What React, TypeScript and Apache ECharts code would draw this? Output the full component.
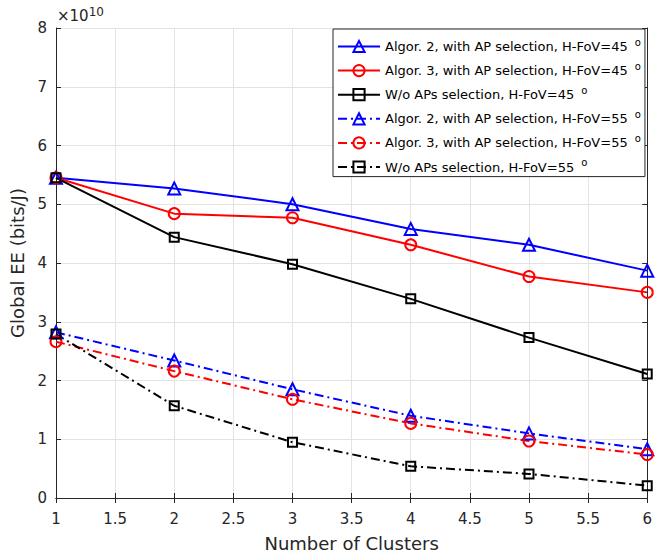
import React, { useEffect, useRef } from "react";
import * as echarts from "echarts";

const clusters = [1, 2, 3, 4, 5, 6];
const alg2Fov45 = [5.45, 5.27, 5.0, 4.58, 4.31, 3.87];
const alg3Fov45 = [5.45, 4.84, 4.77, 4.31, 3.77, 3.5];
const woFov45 = [5.45, 4.44, 3.98, 3.39, 2.73, 2.11];
const alg2Fov55 = [2.82, 2.34, 1.85, 1.4, 1.1, 0.83];
const alg3Fov55 = [2.66, 2.16, 1.68, 1.27, 0.97, 0.74];
const woFov55 = [2.79, 1.57, 0.95, 0.54, 0.41, 0.21];

const seriesNames = [
  "Algor. 2, with AP selection, H-FoV=45",
  "Algor. 3, with AP selection, H-FoV=45",
  "W/o APs selection, H-FoV=45",
  "Algor. 2, with AP selection, H-FoV=55",
  "Algor. 3, with AP selection, H-FoV=55",
  "W/o APs selection, H-FoV=55",
];

const FONT = "'DejaVu Sans', 'Liberation Sans', Arial, sans-serif";
const AXIS = "#262626";
const GRID = "#e3e3e3";

function mk(name: string, vals: number[], color: string, symbol: string, size: number, dashed: boolean) {
  return {
    name,
    type: "line",
    data: clusters.map((x, i) => [x, vals[i]]),
    symbol,
    symbolSize: size,
    showAllSymbol: true,
    clip: false,
    lineStyle: { color, width: 2, type: dashed ? [9, 4, 2, 4] : "solid" },
    itemStyle: { color: "rgba(255,255,255,0)", borderColor: color, borderWidth: 2 },
    emphasis: { disabled: true },
  };
}

export default function App() {
  const ref = useRef<HTMLDivElement>(null);
  useEffect(() => {
    if (!ref.current) return;
    const chart = echarts.init(ref.current, undefined, { renderer: "svg" });
    const axisCommon = {
      axisLine: { show: true, lineStyle: { color: AXIS, width: 1 } },
      axisTick: { show: true, inside: true, length: 5, lineStyle: { color: AXIS } },
    };
    chart.setOption({
      animation: false,
      backgroundColor: "#ffffff",
      textStyle: { fontFamily: FONT },
      grid: { left: 56, right: 4, top: 28, bottom: 60, containLabel: false },
      xAxis: [
        {
          type: "value",
          min: 1,
          max: 6,
          interval: 0.5,
          position: "bottom",
          ...axisCommon,
          axisLabel: { color: AXIS, fontSize: 15, margin: 13, fontFamily: FONT, showMaxLabel: true, showMinLabel: true },
          splitLine: { show: true, lineStyle: { color: GRID, width: 1 } },
          name: "Number of Clusters",
          nameLocation: "middle",
          nameGap: 36,
          nameTextStyle: { color: AXIS, fontSize: 18, fontFamily: FONT },
        },
        {
          type: "value",
          min: 1,
          max: 6,
          interval: 0.5,
          position: "top",
          ...axisCommon,
          axisLabel: { show: false },
          splitLine: { show: false },
        },
      ],
      yAxis: [
        {
          type: "value",
          min: 0,
          max: 8,
          interval: 1,
          position: "left",
          ...axisCommon,
          axisLabel: { color: AXIS, fontSize: 15, margin: 9, fontFamily: FONT },
          splitLine: { show: true, lineStyle: { color: GRID, width: 1 } },
          name: "Global EE (bits/J)",
          nameLocation: "middle",
          nameGap: 30,
          nameTextStyle: { color: AXIS, fontSize: 18, fontFamily: FONT },
        },
        {
          type: "value",
          min: 0,
          max: 8,
          interval: 1,
          position: "right",
          ...axisCommon,
          axisLabel: { show: false },
          splitLine: { show: false },
        },
      ],
      legend: {
        orient: "vertical",
        left: 333,
        top: 29,
        padding: [8, 4, 3, 4],
        itemWidth: 42,
        itemHeight: 14,
        itemGap: 8,
        itemTextGap: 5,
        backgroundColor: "#ffffff",
        borderColor: AXIS,
        borderWidth: 1,
        borderRadius: 0,
        data: seriesNames,
        selectedMode: false,
        formatter: (n: string) => `{a|${n} }{s|o}`,
        textStyle: {
          color: "#000",
          fontFamily: FONT,
          fontSize: 13,
          rich: {
            a: { fontSize: 13, fontFamily: FONT, color: "#000" },
            s: { fontSize: 10, fontFamily: FONT, color: "#000", padding: [0, 0, 9, 3] },
          },
        },
      },
      graphic: [
        {
          type: "text",
          left: 57,
          top: 6,
          style: {
            text: "{m|×10}{s|10}",
            rich: {
              m: { fontSize: 15, fontFamily: FONT, fill: AXIS },
              s: { fontSize: 12, fontFamily: FONT, fill: AXIS, padding: [0, 0, 8, 0] },
            },
          },
        },
      ],
      series: [
        mk(seriesNames[0], alg2Fov45, "#0000ff", "triangle", 12, false),
        mk(seriesNames[1], alg3Fov45, "#ff0000", "circle", 11, false),
        mk(seriesNames[2], woFov45, "#000000", "rect", 9, false),
        mk(seriesNames[3], alg2Fov55, "#0000ff", "triangle", 12, true),
        mk(seriesNames[4], alg3Fov55, "#ff0000", "circle", 11, true),
        mk(seriesNames[5], woFov55, "#000000", "rect", 9, true),
      ],
    });
    return () => chart.dispose();
  }, []);
  return (
    <div
      ref={ref}
      style={{ position: "absolute", left: 0, top: 0, width: 655, height: 558 }}
    />
  );
}
